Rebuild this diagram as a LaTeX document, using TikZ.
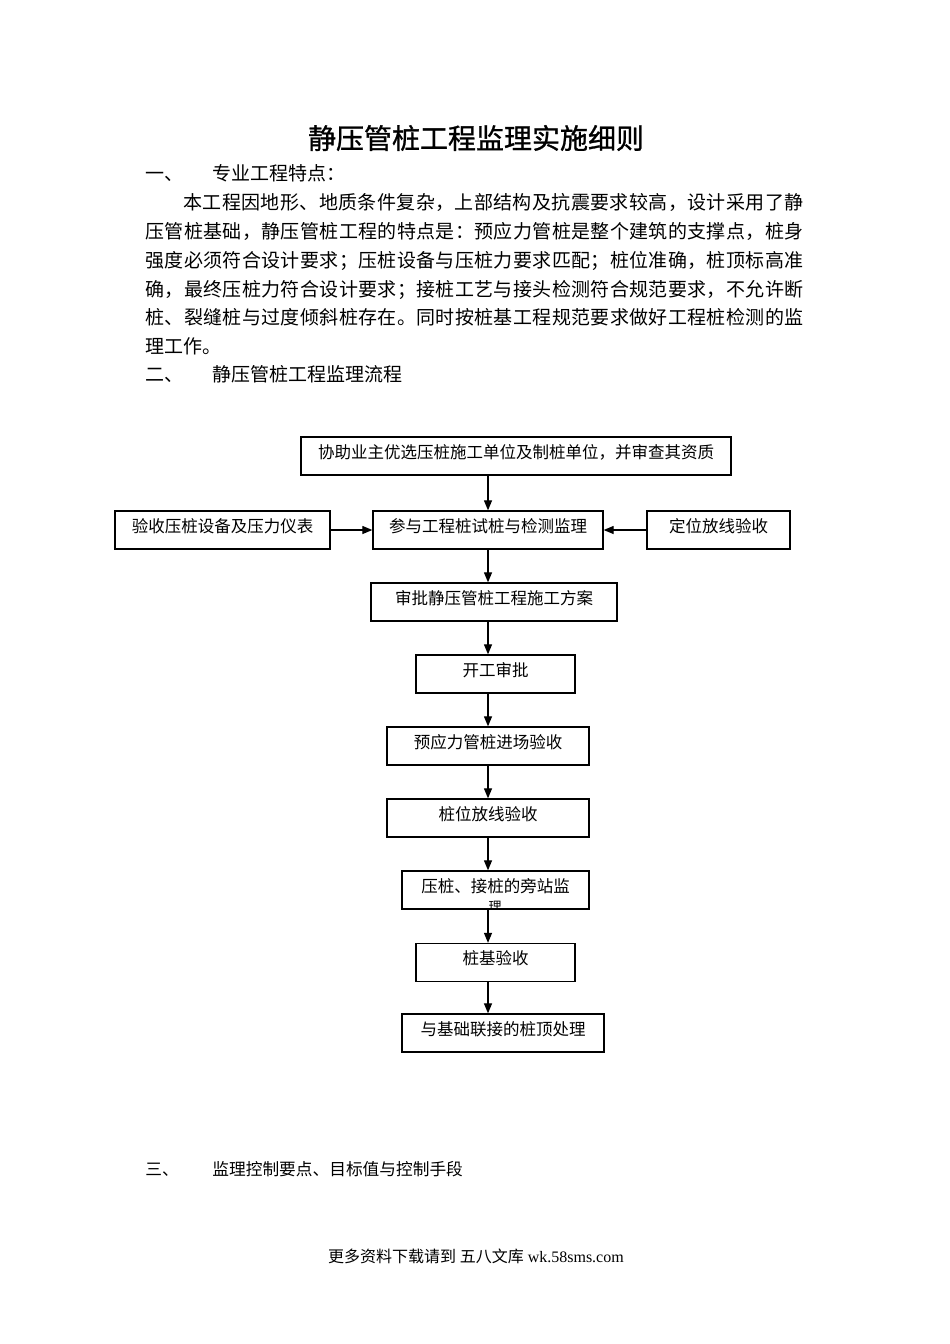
\documentclass[tikz,border=0pt]{standalone}
\usepackage{fontspec}
\setmainfont{Liberation Serif}
\newfontfamily\cjk{Noto Sans CJK SC}
\newfontfamily\cjktitle[FakeBold=1]{Noto Sans CJK SC}
\usetikzlibrary{arrows.meta,positioning}

% one justified line of CJK text, spread to a given width
\makeatletter
\newcommand\jline[2]{\hbox to #1{\@tfor\jch:=#2\do{\jch\hskip 0pt plus 1fil}\unskip}}
\makeatother

\begin{document}
\begin{tikzpicture}[x=1pt,y=-1pt,thick]
\tikzset{
  txt/.style={anchor=west,inner sep=0pt,text height=0.88em,text depth=0.12em,font=\cjk\fontsize{19}{19}\selectfont},
  smalltxt/.style={txt,font=\cjk\fontsize{16.7}{16.7}\selectfont},
  title/.style={inner sep=0pt,font=\cjktitle\fontsize{28}{28}\selectfont},
  flowbox/.style={draw,line width=1.3pt,inner sep=0pt,minimum height=38pt,text height=10pt,text depth=6pt,font=\cjk\fontsize{16.5}{16.5}\selectfont},
  flowarrow/.style={-{Triangle[length=10pt,width=8pt]},line width=1.2pt}
}
\useasboundingbox (0,0) rectangle (950,1344);
\fill[white] (0,0) rectangle (950,1344);

% heading and text
\node[title] (title) at (476,138) {静压管桩工程监理实施细则};
\node[txt] (sec1) at (145,177) {一、};
\node[txt] (sec1t) at (212,177) {专业工程特点：};
\node[txt] (p1) at (183,206) {\jline{620pt}{本工程因地形、地质条件复杂，上部结构及抗震要求较高，设计采用了静}};
\node[txt] (p2) at (145,235) {\jline{658pt}{压管桩基础，静压管桩工程的特点是：预应力管桩是整个建筑的支撑点，桩身}};
\node[txt] (p3) at (145,264) {\jline{658pt}{强度必须符合设计要求；压桩设备与压桩力要求匹配；桩位准确，桩顶标高准}};
\node[txt] (p4) at (145,293) {\jline{658pt}{确，最终压桩力符合设计要求；接桩工艺与接头检测符合规范要求，不允许断}};
\node[txt] (p5) at (145,321) {\jline{658pt}{桩、裂缝桩与过度倾斜桩存在。同时按桩基工程规范要求做好工程桩检测的监}};
\node[txt] (p6) at (145,350) {理工作。};
\node[txt] (sec2) at (145,378) {二、};
\node[txt] (sec2t) at (212,378) {静压管桩工程监理流程};

% flow chart
\node[flowbox,minimum width=430pt] (choose) at (516,456) {协助业主优选压桩施工单位及制桩单位，并审查其资质};
\node[flowbox,minimum width=215pt] (equip) at (222.5,530) {验收压桩设备及压力仪表};
\node[flowbox,minimum width=230pt] (trial) at (488,530) {参与工程桩试桩与检测监理};
\node[flowbox,minimum width=143pt] (setout) at (718.5,530) {定位放线验收};
\node[flowbox,minimum width=246pt] (plan) at (494,602) {审批静压管桩工程施工方案};
\node[flowbox,minimum width=159pt] (start) at (495.5,674) {开工审批};
\node[flowbox,minimum width=202pt] (pipes) at (488,746) {预应力管桩进场验收};
\node[flowbox,minimum width=202pt] (pilepos) at (488,818) {桩位放线验收};
\node[flowbox,minimum width=187pt] (press) at (495.5,890) {压桩、接桩的旁站监};
\node[flowbox,minimum width=159pt] (accept) at (495.5,962.5) {桩基验收};
\node[flowbox,minimum width=202pt] (pilehead) at (503,1033) {与基础联接的桩顶处理};
\begin{scope}
\clip (press.south west) rectangle (press.north east);
\node[inner sep=0pt,anchor=north,font=\cjk\fontsize{13}{13}\selectfont] (pressrest) at (495,901) {理};
\end{scope}

\draw[flowarrow] (choose.south -| trial) -- (trial.north);
\draw[flowarrow] (equip) -- (trial);
\draw[flowarrow] (setout) -- (trial);
\foreach \from/\to in {trial/plan, plan/start, start/pipes, pipes/pilepos, pilepos/press, press/accept, accept/pilehead}
\draw[flowarrow] (\from.south -| trial) -- (\to.north -| trial);

\node[smalltxt] (sec3) at (145,1172) {三、};
\node[smalltxt] (sec3t) at (212,1172) {监理控制要点、目标值与控制手段};
\node[inner sep=0pt,font=\fontsize{16}{16}\selectfont] (footer) at (476,1256) {{\cjk 更多资料下载请到 五八文库} wk.58sms.com};
\end{tikzpicture}
\end{document}
